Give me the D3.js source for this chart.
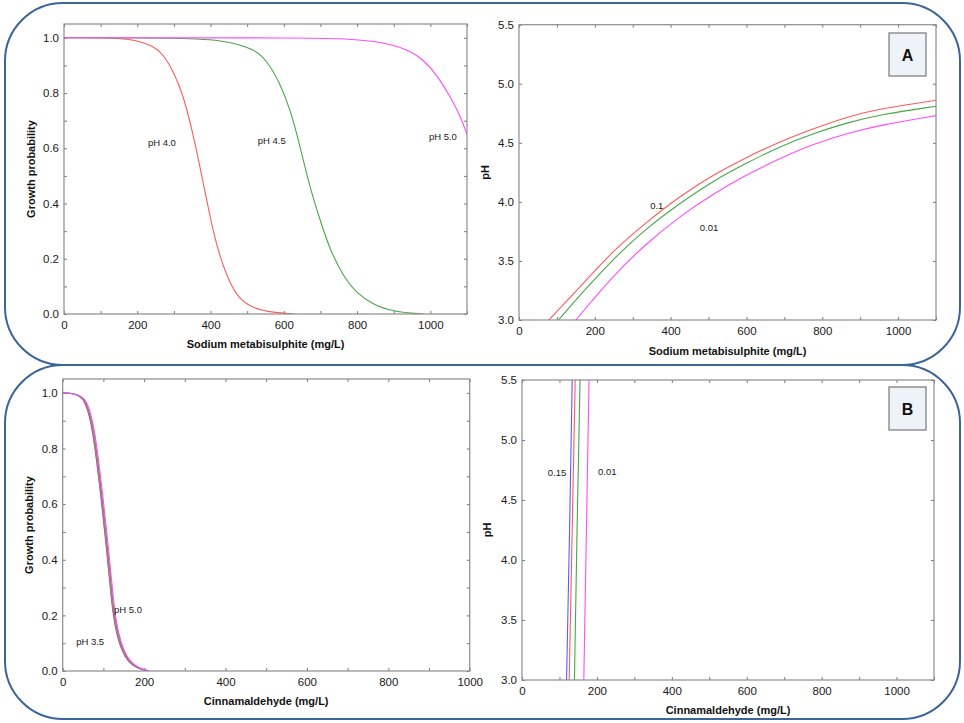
<!DOCTYPE html>
<html>
<head>
<meta charset="utf-8">
<script src="https://cdn.jsdelivr.net/npm/d3@7"></script>
<style>
  body { margin: 0; background: #fff; }
  svg { display: block; font-family: "Liberation Sans", Arial, sans-serif; }
</style>
</head>
<body>
<script>
// ---- data ----
// panel A left: growth probability vs sodium metabisulphite (mg/L)
var metaPH40 = [[0,1],[150,1],[200,0.99],[244,0.97],[271,0.94],[298,0.88],[326,0.79],[348,0.675],[371,0.535],[389,0.415],[408,0.295],[426,0.205],[453,0.11],[480,0.052],[517,0.02],[571,0.005],[630,0]];
var metaPH45 = [[0,1],[400,1],[462,0.98],[517,0.96],[553,0.92],[590,0.835],[617,0.74],[635,0.655],[653,0.558],[671,0.461],[699,0.34],[726,0.232],[763,0.135],[799,0.075],[844,0.033],[899,0.008],[981,0]];
var metaPH50 = [[0,1],[700,1],[750,0.997],[826,0.991],[899,0.975],[944,0.953],[981,0.92],[1017,0.868],[1054,0.787],[1081,0.72],[1100,0.65]];

// panel A right: pH vs sodium metabisulphite, probability contours
var metaP10 = [[79,3.0],[161,3.28],[249,3.59],[337,3.83],[425,4.05],[513,4.23],[601,4.38],[689,4.51],[777,4.62],[865,4.72],[953,4.79],[1100,4.86]];
var metaP05 = [[104,3.0],[161,3.21],[249,3.52],[337,3.78],[425,3.99],[513,4.18],[601,4.33],[689,4.47],[777,4.58],[865,4.67],[953,4.74],[1100,4.81]];
var metaP01 = [[150,3.0],[249,3.38],[337,3.65],[425,3.88],[513,4.07],[601,4.23],[689,4.37],[777,4.49],[865,4.58],[953,4.65],[1100,4.73]];

// panel B left: growth probability vs cinnamaldehyde (mg/L)
var cinnPH35 = [[0,1],[25,0.998],[42,0.988],[54,0.97],[66,0.916],[74,0.856],[83,0.76],[91,0.664],[99,0.556],[107,0.448],[115,0.328],[123,0.208],[132,0.136],[144,0.076],[160,0.034],[181,0.01],[209,0]];
var cinnPH40 = [[0,1],[26,0.998],[43,0.988],[55,0.97],[67,0.916],[75,0.856],[84,0.76],[92,0.664],[100,0.556],[108,0.448],[116,0.328],[124,0.208],[133,0.136],[145,0.076],[161,0.034],[182,0.01],[210,0]];
var cinnPH45 = [[0,1],[27,0.998],[45,0.988],[57,0.97],[69,0.916],[77,0.856],[86,0.76],[94,0.664],[102,0.556],[110,0.448],[118,0.328],[126,0.208],[135,0.136],[147,0.076],[163,0.034],[184,0.01],[212,0]];
var cinnPH50 = [[0,1],[28,0.998],[47,0.988],[59,0.97],[71,0.916],[79,0.856],[88,0.76],[96,0.664],[104,0.556],[112,0.448],[120,0.328],[128,0.208],[137,0.136],[149,0.076],[165,0.034],[186,0.01],[214,0]];

// panel B right: pH vs cinnamaldehyde, probability contours
var cinnP15 = [[119,3.0],[127,4.25],[134,5.5]];
var cinnP10 = [[126,3.0],[134,4.25],[142,5.5]];
var cinnP05 = [[140,3.0],[147,4.25],[155,5.5]];
var cinnP01 = [[165,3.0],[172,4.25],[179,5.5]];

var probTicks = [0,0.1,0.2,0.3,0.4,0.5,0.6,0.7,0.8,0.9,1.0];
var phTicks = [3.0,3.5,4.0,4.5,5.0,5.5];
var concTicks1100 = [0,100,200,300,400,500,600,700,800,900,1000,1100];
var concTicks1000 = [0,100,200,300,400,500,600,700,800,900,1000];

var RED = "#ff5a5a", GREEN = "#46a846", MAGENTA = "#ff4cff", BLUE = "#5a5aff";

var W = 964, H = 723;
var svg = d3.select("body").append("svg").attr("width", W).attr("height", H);

// rounded panel frames
svg.append("rect").attr("x", 5).attr("y", 3).attr("width", 955).attr("height", 362)
  .attr("rx", 58).attr("fill", "none").attr("stroke", "#3b6497").attr("stroke-width", 2);
svg.append("rect").attr("x", 5).attr("y", 365).attr("width", 955).attr("height", 354)
  .attr("rx", 58).attr("fill", "none").attr("stroke", "#3b6497").attr("stroke-width", 2);

function drawPlot(cfg) {
  var x = d3.scaleLinear().domain(cfg.xDomain).range([cfg.left, cfg.right]);
  var y = d3.scaleLinear().domain(cfg.yDomain).range([cfg.bottom, cfg.top]);
  var g = svg.append("g");

  var xLabel = function(d) { return d % 200 === 0 ? d : ""; };
  var yLabel = cfg.yEvery ? function(d) { return Math.round(d * 10) % 2 === 0 ? d3.format(".1f")(d) : ""; }
                          : d3.format(".1f");

  // bottom axis with labels, inside ticks
  g.append("g").attr("transform", "translate(0," + cfg.bottom + ")")
    .call(d3.axisBottom(x).tickValues(cfg.xTicks).tickSize(-3).tickPadding(7).tickFormat(xLabel));
  g.append("g").attr("transform", "translate(0," + cfg.top + ")")
    .call(d3.axisTop(x).tickValues(cfg.xTicks).tickSize(-3).tickFormat(""));
  g.append("g").attr("transform", "translate(" + cfg.left + ",0)")
    .call(d3.axisLeft(y).tickValues(cfg.yTicks).tickSize(-3).tickPadding(5).tickFormat(yLabel));
  g.append("g").attr("transform", "translate(" + cfg.right + ",0)")
    .call(d3.axisRight(y).tickValues(cfg.yTicks).tickSize(-3).tickFormat(""));

  g.selectAll(".domain").remove();
  g.selectAll(".tick line").attr("stroke", "#7a7a7a");
  g.selectAll(".tick text").attr("fill", "#1a1a1a").style("font-size", "11.5px")
    .style("font-family", "'Liberation Sans', Arial, sans-serif");

  // clip so lines stay inside the frame
  var clipId = "clip" + cfg.id;
  svg.append("clipPath").attr("id", clipId).append("rect")
    .attr("x", cfg.left).attr("y", cfg.top)
    .attr("width", cfg.right - cfg.left).attr("height", cfg.bottom - cfg.top);

  var line = d3.line().x(function(d) { return x(d[0]); }).y(function(d) { return y(d[1]); })
    .curve(cfg.vertical ? d3.curveMonotoneY : d3.curveBasis);

  cfg.series.forEach(function(s) {
    g.append("path").datum(s.data)
      .attr("clip-path", "url(#" + clipId + ")")
      .attr("d", line)
      .attr("fill", "none").attr("stroke", s.color).attr("stroke-width", 1.1);
  });

  // frame
  g.append("rect").attr("x", cfg.left).attr("y", cfg.top)
    .attr("width", cfg.right - cfg.left).attr("height", cfg.bottom - cfg.top)
    .attr("fill", "none").attr("stroke", "#8c8c8c").attr("stroke-width", 1.2);

  cfg.labels.forEach(function(l) {
    g.append("text").attr("x", x(l.x)).attr("y", y(l.y))
      .style("font-size", "9.5px").attr("fill", "#1a1a1a").text(l.text);
  });

  // axis titles
  g.append("text").attr("x", (cfg.left + cfg.right) / 2).attr("y", cfg.xTitleY)
    .attr("text-anchor", "middle").style("font-size", "11px").style("font-weight", "bold")
    .attr("fill", "#111").text(cfg.xTitle);
  g.append("text").attr("transform", "translate(" + cfg.yTitleX + "," + ((cfg.top + cfg.bottom) / 2) + ") rotate(-90)")
    .attr("text-anchor", "middle").style("font-size", "11px").style("font-weight", "bold")
    .attr("fill", "#111").text(cfg.yTitle);

  if (cfg.tag) {
    g.append("rect").attr("x", cfg.tag.x).attr("y", cfg.tag.y).attr("width", 37).attr("height", 43)
      .attr("fill", "#eef2f9").attr("stroke", "#777").attr("stroke-width", 1.2);
    g.append("text").attr("x", cfg.tag.x + 18.5).attr("y", cfg.tag.y + 28)
      .attr("text-anchor", "middle").style("font-size", "16px").style("font-weight", "bold")
      .attr("fill", "#111").text(cfg.tag.text);
  }
}

drawPlot({
  id: "tl", left: 64, right: 467, top: 24, bottom: 314,
  xDomain: [0, 1100], yDomain: [0, 1.05], xTicks: concTicks1100, yTicks: probTicks, yEvery: true,
  xTitle: "Sodium metabisulphite (mg/L)", xTitleY: 348, yTitle: "Growth probability", yTitleX: 35,
  series: [{data: metaPH40, color: RED}, {data: metaPH45, color: GREEN}, {data: metaPH50, color: MAGENTA}],
  labels: [{text: "pH 4.0", x: 229, y: 0.608}, {text: "pH 4.5", x: 529, y: 0.616}, {text: "pH 5.0", x: 996, y: 0.63}]
});

drawPlot({
  id: "tr", left: 519, right: 936, top: 24.7, bottom: 320,
  xDomain: [0, 1100], yDomain: [3, 5.5], xTicks: concTicks1100, yTicks: phTicks, yEvery: false,
  xTitle: "Sodium metabisulphite (mg/L)", xTitleY: 355, yTitle: "pH", yTitleX: 489,
  series: [{data: metaP10, color: RED}, {data: metaP05, color: GREEN}, {data: metaP01, color: MAGENTA}],
  labels: [{text: "0.1", x: 346, y: 3.94}, {text: "0.01", x: 477, y: 3.75}],
  tag: {x: 889, y: 33, text: "A"}
});

drawPlot({
  id: "bl", left: 62.7, right: 469.7, top: 379, bottom: 671,
  xDomain: [0, 1000], yDomain: [0, 1.05], xTicks: concTicks1000, yTicks: probTicks, yEvery: true,
  xTitle: "Cinnamaldehyde (mg/L)", xTitleY: 705, yTitle: "Growth probability", yTitleX: 33,
  series: [{data: cinnPH35, color: BLUE}, {data: cinnPH40, color: RED}, {data: cinnPH45, color: GREEN}, {data: cinnPH50, color: MAGENTA}],
  labels: [{text: "pH 5.0", x: 126, y: 0.209}, {text: "pH 3.5", x: 33, y: 0.094}]
});

drawPlot({
  id: "br", left: 522, right: 934, top: 380, bottom: 680,
  xDomain: [0, 1100], yDomain: [3, 5.5], xTicks: concTicks1100, yTicks: phTicks, yEvery: false, vertical: true,
  xTitle: "Cinnamaldehyde (mg/L)", xTitleY: 714, yTitle: "pH", yTitleX: 491,
  series: [{data: cinnP15, color: BLUE}, {data: cinnP10, color: RED}, {data: cinnP05, color: GREEN}, {data: cinnP01, color: MAGENTA}],
  labels: [{text: "0.15", x: 69, y: 4.70}, {text: "0.01", x: 203, y: 4.71}],
  tag: {x: 889, y: 387, text: "B"}
});
</script>
</body>
</html>
